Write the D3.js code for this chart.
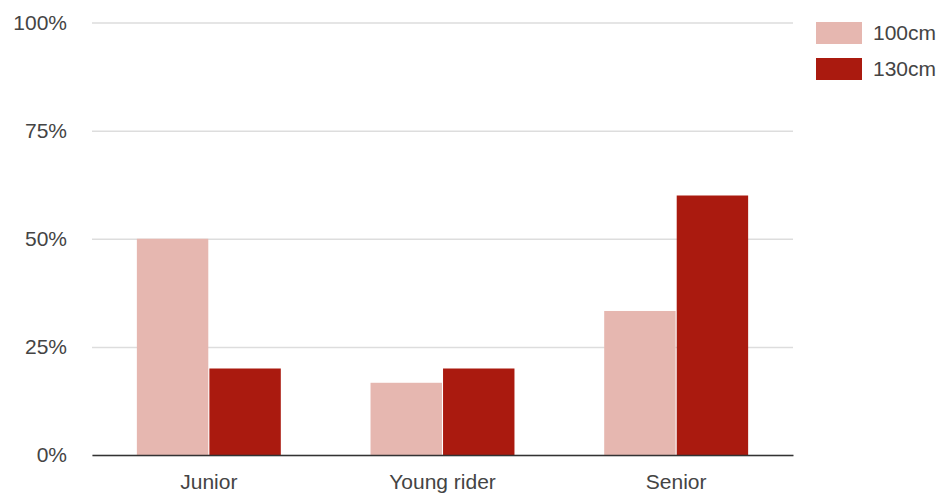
<!DOCTYPE html>
<html><head><meta charset="utf-8">
<script src="https://cdn.jsdelivr.net/npm/d3@7"></script>
<style>body{margin:0;background:#fff}svg{display:block}text{font-family:"Liberation Sans",Arial,sans-serif}</style>
</head><body><svg id="c" width="943" height="495"></svg>
<script>
const categories = ["Junior", "Young rider", "Senior"];
const seriesNames = ["100cm", "130cm"];
const values100 = [50, 16.7, 33.3];
const values130 = [20, 20, 60];
const yTicks = [0, 25, 50, 75, 100];
const colors = ["#e6b7b0", "#aa1a0f"];

const svg = d3.select("#c");
const x0 = d3.scaleBand().domain(categories).range([92, 793]).paddingInner(0.384).paddingOuter(0.192);
const x1 = d3.scaleBand().domain(seriesNames).range([0, x0.bandwidth()]).paddingInner(0.015);
const y = d3.scaleLinear().domain([0, 100]).range([455, 22.5]);
const seriesVals = [values100, values130];

// gridlines
const yAxis = d3.axisLeft(y).tickValues(yTicks).tickFormat(d => d + "%").tickSize(-(793 - 92)).tickPadding(25);
const gy = svg.append("g").attr("transform", "translate(92,0)").call(yAxis);
gy.select(".domain").remove();
gy.selectAll(".tick line").attr("stroke", "#dddddd").attr("stroke-width", 1.5);
gy.selectAll(".tick text").attr("fill", "#444").attr("font-size", 21).attr("x", -25)
  .attr("font-family", '"Liberation Sans",Arial,sans-serif');

// bars
categories.forEach((c, ci) => {
  seriesNames.forEach((s, si) => {
    const v = seriesVals[si][ci];
    svg.append("rect")
      .attr("x", x0(c) + x1(s))
      .attr("y", y(v))
      .attr("width", x1.bandwidth())
      .attr("height", y(0) - y(v))
      .attr("fill", colors[si]);
  });
});

// baseline + category labels
const xAxis = d3.axisBottom(x0).tickSize(0).tickPadding(19);
const gx = svg.append("g").attr("transform", "translate(0,455)").call(xAxis);
gx.select(".domain").attr("stroke", "#333").attr("stroke-width", 1.5);
gx.selectAll(".tick text").attr("fill", "#444").attr("font-size", 21).attr("font-family", '"Liberation Sans",Arial,sans-serif');

// legend
const lg = svg.append("g");
seriesNames.forEach((s, i) => {
  const yy = 22 + i * 36;
  lg.append("rect").attr("x", 816).attr("y", yy).attr("width", 46).attr("height", 22).attr("fill", colors[i]);
  lg.append("text").attr("x", 873).attr("y", yy + 11).attr("dy", "0.35em")
    .attr("fill", "#444").attr("font-size", 21).text(s);
});
</script></body></html>
